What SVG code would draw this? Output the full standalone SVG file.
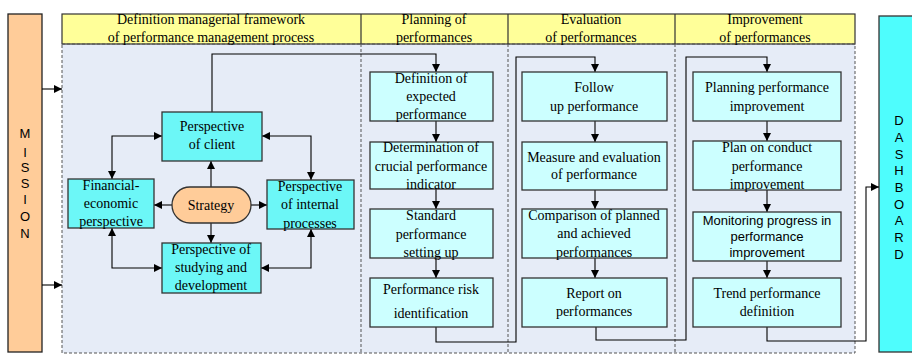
<svg xmlns="http://www.w3.org/2000/svg" width="912" height="354" viewBox="0 0 912 354">
<defs>
<marker id="ah" viewBox="0 0 8 8" refX="8" refY="4" markerWidth="8" markerHeight="8" markerUnits="userSpaceOnUse" orient="auto-start-reverse"><path d="M0,0 L8,4 L0,8 z" fill="#000"/></marker>
<style>
.t{font-family:"Liberation Serif","Times New Roman",serif;font-size:14px;fill:#000;text-anchor:middle}
.s{font-family:"Liberation Sans",Arial,sans-serif;font-size:13px;fill:#000;text-anchor:middle}
.pb{fill:#6CF7F7;stroke:#333;stroke-width:1.3}
.lb{fill:#CCFFFF;stroke:#333;stroke-width:1.3}
.c{fill:none;stroke:#000;stroke-width:1.1}
.a{marker-end:url(#ah)}
.b{marker-start:url(#ah);marker-end:url(#ah)}
.dash{fill:none;stroke:#555;stroke-width:1;stroke-dasharray:3,2}
</style>
</defs>
<rect width="912" height="354" fill="#fff"/>
<g id="mission">
<rect x="8" y="14" width="34" height="338" fill="#FFCC99" stroke="#222" stroke-width="1.3"/>
<text class="s" x="25" y="138">M</text><text class="s" x="25" y="157">I</text><text class="s" x="25" y="172">S</text><text class="s" x="25" y="188">S</text><text class="s" x="25" y="204">I</text><text class="s" x="25" y="221">O</text><text class="s" x="25" y="238">N</text>
</g>
<g id="dashboard">
<rect x="879" y="16" width="40" height="336" fill="#4EFDFD" stroke="#333" stroke-width="1.3"/>
<text class="s" x="899" y="125">D</text><text class="s" x="899" y="142">A</text><text class="s" x="899" y="159">S</text><text class="s" x="899" y="175">H</text><text class="s" x="899" y="192">B</text><text class="s" x="899" y="209">O</text><text class="s" x="899" y="225">A</text><text class="s" x="899" y="242">R</text><text class="s" x="899" y="259">D</text>
</g>
<g id="frame">
<rect x="62" y="44" width="793" height="309" fill="#E6ECF7"/>
<rect x="62" y="14" width="793" height="30" fill="#FFFF99" stroke="#333" stroke-width="1.2"/>
<rect x="62" y="44" width="793" height="309" class="dash"/>
<path d="M361,14 V44 M508,14 V44 M675,14 V44" stroke="#333" stroke-width="1.2"/>
<path d="M361,44 V353 M508,44 V353 M675,44 V353" class="dash"/>
<text class="t" x="211" y="24">Definition managerial framework</text>
<text class="t" x="211" y="42">of performance management process</text>
<text class="t" x="434" y="24">Planning of</text>
<text class="t" x="434" y="42">performances</text>
<text class="t" x="591" y="24">Evaluation</text>
<text class="t" x="591" y="42">of performances</text>
<text class="t" x="765" y="24">Improvement</text>
<text class="t" x="765" y="42">of performances</text>
</g>
<g id="connectors">
<path class="c a" d="M42,89 H62"/>
<path class="c a" d="M42,285 H62"/>
<path class="c a" d="M212,112 V54 H436 V72"/>
<path class="c a" d="M211,187 V161"/>
<path class="c a" d="M172,205 H154"/>
<path class="c a" d="M251,205 H267"/>
<path class="c a" d="M211,223 V243"/>
<path class="c b" d="M112,179 V136 H162"/>
<path class="c b" d="M262,136 H311 V180"/>
<path class="c b" d="M112,228 V268 H162"/>
<path class="c b" d="M311,229 V268 H261"/>
<path class="c a" d="M436,121 V142"/>
<path class="c a" d="M436,189 V209"/>
<path class="c a" d="M436,258 V278"/>
<path class="c a" d="M436,327 V342 H516 V57 H595 V72"/>
<path class="c a" d="M595,121 V142"/>
<path class="c a" d="M595,190 V209"/>
<path class="c a" d="M595,258 V278"/>
<path class="c a" d="M596,327 V340 H686 V57 H767 V72"/>
<path class="c a" d="M767,121 V141"/>
<path class="c a" d="M767,190 V212"/>
<path class="c a" d="M767,261 V278"/>
<path class="c a" d="M767,327 V341 H866 V187 H879"/>
</g>
<g id="client"><rect class="pb" x="162" y="112" width="100" height="49"/><text class="t" x="212" y="131">Perspective</text><text class="t" x="212" y="149">of client</text></g>
<g id="financial"><rect class="pb" x="68" y="179" width="86" height="49"/><text class="t" x="111" y="190">Financial-</text><text class="t" x="111" y="208">economic</text><text class="t" x="111" y="226">perspective</text></g>
<g id="internal"><rect class="pb" x="267" y="180" width="87" height="49"/><text class="t" x="310" y="191">Perspective</text><text class="t" x="310" y="209">of internal</text><text class="t" x="310" y="228">processes</text></g>
<g id="studying"><rect class="pb" x="162" y="243" width="99" height="50"/><text class="t" x="211" y="254">Perspective of</text><text class="t" x="211" y="272">studying and</text><text class="t" x="211" y="290">development</text></g>
<g id="strategy"><rect x="172" y="187" width="79" height="36" rx="18" fill="#FFCC99" stroke="#333" stroke-width="1.3"/><text class="t" x="211" y="210">Strategy</text></g>
<g id="p1"><rect class="lb" x="370" y="72" width="123" height="49"/><text class="t" x="431" y="83">Definition of</text><text class="t" x="431" y="101">expected</text><text class="t" x="431" y="119">performance</text></g>
<g id="p2"><rect class="lb" x="370" y="142" width="123" height="47"/><text class="t" x="431" y="152">Determination of</text><text class="t" x="431" y="171">crucial performance</text><text class="t" x="431" y="189">indicator</text></g>
<g id="p3"><rect class="lb" x="370" y="209" width="123" height="49"/><text class="t" x="431" y="220">Standard</text><text class="t" x="431" y="239">performance</text><text class="t" x="431" y="257">setting up</text></g>
<g id="p4"><rect class="lb" x="370" y="278" width="123" height="49"/><text class="t" x="431" y="294">Performance risk</text><text class="t" x="431" y="318">identification</text></g>
<g id="e1"><rect class="lb" x="522" y="72" width="145" height="49"/><text class="t" x="594" y="92">Follow</text><text class="t" x="594" y="111">up performance</text></g>
<g id="e2"><rect class="lb" x="522" y="142" width="145" height="48"/><text class="t" x="594" y="162">Measure and evaluation</text><text class="t" x="594" y="179">of performance</text></g>
<g id="e3"><rect class="lb" x="522" y="209" width="145" height="49"/><text class="t" x="594" y="220">Comparison of planned</text><text class="t" x="594" y="238">and achieved</text><text class="t" x="594" y="257">performances</text></g>
<g id="e4"><rect class="lb" x="522" y="278" width="145" height="49"/><text class="t" x="594" y="298">Report on</text><text class="t" x="594" y="316">performances</text></g>
<g id="i1"><rect class="lb" x="693" y="72" width="148" height="49"/><text class="t" x="767" y="92">Planning performance</text><text class="t" x="767" y="111">improvement</text></g>
<g id="i2"><rect class="lb" x="693" y="141" width="148" height="49"/><text class="t" x="767" y="152">Plan on conduct</text><text class="t" x="767" y="171">performance</text><text class="t" x="767" y="189">improvement</text></g>
<g id="i3"><rect class="lb" x="693" y="212" width="148" height="49"/><text class="s" x="767" y="225">Monitoring progress in</text><text class="s" x="767" y="241">performance</text><text class="s" x="767" y="257">improvement</text></g>
<g id="i4"><rect class="lb" x="693" y="278" width="148" height="49"/><text class="t" x="767" y="298">Trend performance</text><text class="t" x="767" y="316">definition</text></g>
</svg>
